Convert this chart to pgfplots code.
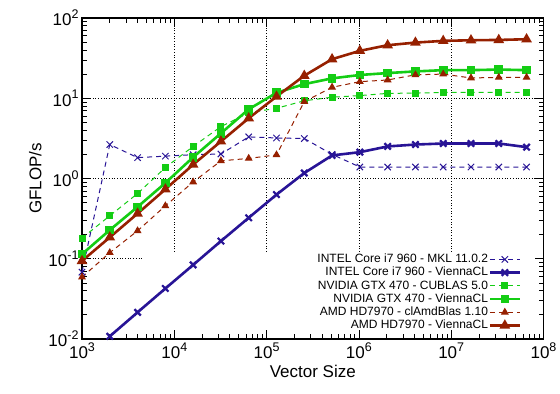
\documentclass[border=0pt]{standalone}
\usepackage{fontspec}
\setmainfont{Liberation Sans}
\usepackage{pgfplots}
\pgfplotsset{compat=1.18}
\definecolor{cblue}{RGB}{40,20,150}
\definecolor{cgreen}{RGB}{20,205,20}
\definecolor{cred}{RGB}{150,32,0}
\newcommand\sx[1]{10\raisebox{0.42em}{\fontsize{12.5bp}{12.5bp}\selectfont #1}}
\begin{document}
\begin{tikzpicture}
\begin{axis}[
  scale only axis, width=461.5bp, height=321bp,
  at={(0,0)}, anchor=south west,
  xmode=log, ymode=log,
  xmin=1e3, xmax=1e8, ymin=1e-2, ymax=1e2,
  xtick={1e3,1e4,1e5,1e6,1e7,1e8},
  xticklabels={\sx{3},\sx{4},\sx{5},\sx{6},\sx{7},\sx{8}},
  ytick={1e-2,1e-1,1,10,100},
  yticklabels={\sx{-2},\sx{-1},\sx{0},\sx{1},\sx{2}},
  ticklabel style={font=\fontsize{17bp}{20bp}\selectfont},
  label style={font=\fontsize{17bp}{20bp}\selectfont},
  xlabel={Vector Size}, ylabel={GFLOP/s},
  major tick length=9bp, minor tick length=5bp,
  every tick/.style={black, line width=0.8bp},
  axis line style={line width=1.6bp},
  legend plot pos=right,
  legend cell align=right,
  legend style={draw=none, fill=none, font=\fontsize{12bp}{13bp}\selectfont,
    at={(axis description cs:0.952,0.022)}, anchor=south east,
    inner sep=0pt, row sep=0.6bp,
    nodes={inner sep=0.6bp, text height=9bp, text depth=2.4bp}},
  legend image code/.code={\draw[mark repeat=2,mark phase=2,#1] plot coordinates {(0bp,0bp) (15bp,0bp) (30bp,0bp)};},
]
% grid (partly hidden by the key box)
\draw[dotted, black, line width=0.7bp] (axis cs:1e3,10) -- (axis cs:1e8,10);
\draw[dotted, black, line width=0.7bp] (axis cs:1e3,1) -- (axis cs:1e8,1);
\draw[dotted, black, line width=0.7bp] (axis cs:1e3,0.1) -- (axis cs:4580,0.1);
\draw[dotted, black, line width=0.7bp] (axis cs:1e4,0.122) -- (axis cs:1e4,100);
\draw[dotted, black, line width=0.7bp] (axis cs:1e5,0.122) -- (axis cs:1e5,100);
\draw[dotted, black, line width=0.7bp] (axis cs:1e6,0.122) -- (axis cs:1e6,100);
\draw[dotted, black, line width=0.7bp] (axis cs:1e7,0.122) -- (axis cs:1e7,100);

\addplot[cblue, line width=1bp, dash pattern=on 5bp off 4bp, mark=x, mark size=4.5bp, mark options={solid, line width=1bp}] coordinates {
(1000,0.068) (2000,2.65) (4000,1.82) (8000,1.90) (16000,1.98) (32000,2.02) (64000,3.3) (128000,3.2) (256000,3.15) (512000,2.0) (1024000,1.39) (2048000,1.39) (4096000,1.39) (8192000,1.39) (16384000,1.39) (32768000,1.39) (65536000,1.39)};
\addlegendentry{INTEL Core i7 960 - MKL 11.0.2}

\addplot[cblue, line width=2.6bp, mark=x, mark size=4.5bp, mark options={solid, line width=2.2bp}] coordinates {
(2000,0.0108) (4000,0.0215) (8000,0.0426) (16000,0.0838) (32000,0.166) (64000,0.324) (128000,0.63) (256000,1.17) (512000,1.94) (1024000,2.13) (2048000,2.51) (4096000,2.65) (8192000,2.73) (16384000,2.73) (32768000,2.73) (65536000,2.46)};
\addlegendentry{INTEL Core i7 960 - ViennaCL}

\addplot[cgreen, line width=1bp, dash pattern=on 5bp off 4bp, mark=square*, mark size=3bp, mark options={solid}] coordinates {
(1000,0.181) (2000,0.343) (4000,0.65) (8000,1.37) (16000,2.51) (32000,4.43) (64000,6.6) (128000,7.5) (256000,9.3) (512000,10.3) (1024000,10.8) (2048000,11.5) (4096000,11.6) (8192000,11.8) (16384000,11.8) (32768000,11.8) (65536000,11.8)};
\addlegendentry{NVIDIA GTX 470 - CUBLAS 5.0}

\addplot[cgreen, line width=2.6bp, mark=square*, mark size=3bp, mark options={solid}] coordinates {
(1000,0.114) (2000,0.228) (4000,0.443) (8000,0.88) (16000,1.84) (32000,3.66) (64000,7.3) (128000,11.7) (256000,15.0) (512000,17.7) (1024000,19.5) (2048000,20.6) (4096000,21.6) (8192000,22.4) (16384000,22.4) (32768000,22.8) (65536000,22.4)};
\addlegendentry{NVIDIA GTX 470 - ViennaCL}

\addplot[cred, line width=1bp, dash pattern=on 5bp off 4bp, mark=triangle*, mark size=3.6bp, mark options={solid}] coordinates {
(1000,0.059) (2000,0.119) (4000,0.223) (8000,0.456) (16000,0.905) (32000,1.66) (64000,1.78) (128000,1.97) (256000,9.08) (512000,13.7) (1024000,16.1) (2048000,16.9) (4096000,19.6) (8192000,20.0) (16384000,17.9) (32768000,18.2) (65536000,18.2)};
\addlegendentry{AMD HD7970 - clAmdBlas 1.10}

\addplot[cred, line width=2.6bp, mark=triangle*, mark size=3.6bp, mark options={solid}] coordinates {
(1000,0.094) (2000,0.185) (4000,0.366) (8000,0.734) (16000,1.49) (32000,2.9) (64000,5.64) (128000,10.5) (256000,19.1) (512000,30.7) (1024000,39.0) (2048000,45.8) (4096000,49.4) (8192000,51.9) (16384000,52.8) (32768000,53.3) (65536000,54.4)};
\addlegendentry{AMD HD7970 - ViennaCL}
\end{axis}
\pgfresetboundingbox
\path[use as bounding box] (-82bp,-55bp) rectangle (478bp,339bp);
\end{tikzpicture}
\end{document}
